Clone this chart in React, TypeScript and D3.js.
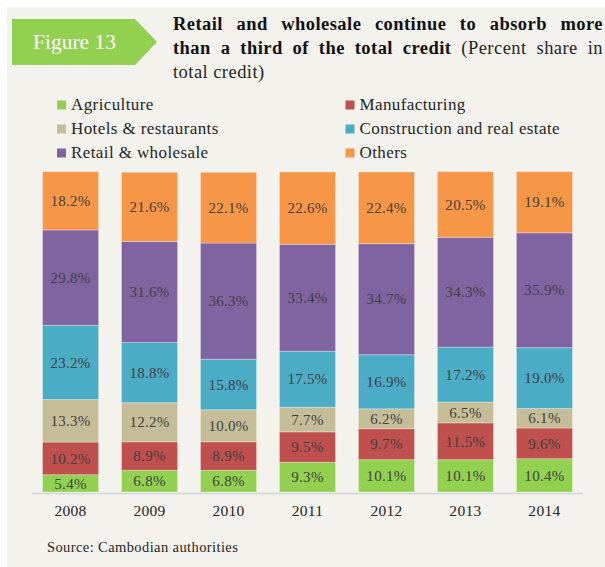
import React from 'react';
import * as d3 from 'd3';

const years = ['2008', '2009', '2010', '2011', '2012', '2013', '2014'];
const agriculture = [5.4, 6.8, 6.8, 9.3, 10.1, 10.1, 10.4];
const manufacturing = [10.2, 8.9, 8.9, 9.5, 9.7, 11.5, 9.6];
const hotels = [13.3, 12.2, 10.0, 7.7, 6.2, 6.5, 6.1];
const construction = [23.2, 18.8, 15.8, 17.5, 16.9, 17.2, 19.0];
const retail = [29.8, 31.6, 36.3, 33.4, 34.7, 34.3, 35.9];
const others = [18.2, 21.6, 22.1, 22.6, 22.4, 20.5, 19.1];

const seriesNames = ['Agriculture', 'Manufacturing', 'Hotels & restaurants', 'Construction and real estate', 'Retail & wholesale', 'Others'];
const seriesKeys = ['agriculture', 'manufacturing', 'hotels', 'construction', 'retail', 'others'];
const seriesValues = [agriculture, manufacturing, hotels, construction, retail, others];
const colors = ['#92d050', '#c0504d', '#c4bd97', '#4bacc6', '#8064a2', '#f79646'];

const FONT = "'Liberation Serif', 'Times New Roman', serif";

let canvasCtx: CanvasRenderingContext2D | null = null;
function measure(text: string, font: string, ls: number): number {
  if (!canvasCtx) {
    const c = document.createElement('canvas');
    canvasCtx = c.getContext('2d');
  }
  if (!canvasCtx) return text.length * 8;
  canvasCtx.font = font;
  return canvasCtx.measureText(text).width + text.length * ls;
}

type Word = { t: string; b: boolean };

function JustifiedLine({ words, x0, x1, y, size, ls, justify }: { words: Word[]; x0: number; x1: number; y: number; size: number; ls: number; justify: boolean }) {
  const widths = words.map(w => measure(w.t, `${w.b ? 'bold ' : ''}${size}px ${FONT}`, ls));
  const total = widths.reduce((a, b) => a + b, 0);
  const spaceW = measure(' ', `${size}px ${FONT}`, ls);
  const gap = justify && words.length > 1 ? (x1 - x0 - total) / (words.length - 1) : spaceW;
  let x = x0;
  return (
    <g>
      {words.map((w, i) => {
        const el = (
          <text key={i} x={x} y={y} fontFamily={FONT} fontSize={size} letterSpacing={ls} fontWeight={w.b ? 'bold' : 'normal'} fill={w.b ? '#111' : '#262626'}>
            {w.t}
          </text>
        );
        x += widths[i] + gap;
        return el;
      })}
    </g>
  );
}

export default function App() {
  const W = 605, H = 567;
  const table = years.map((yr, i) => {
    const row: any = { year: yr };
    seriesKeys.forEach((k, j) => { row[k] = seriesValues[j][i]; });
    return row;
  });
  const stacked = d3.stack<any>().keys(seriesKeys)(table);

  const x = d3.scaleBand<string>().domain(years).range([32, 583]).paddingInner(0.29).paddingOuter(0.133);
  const y = d3.scaleLinear().domain([0, 100]).range([492, 172]);

  const titleSize = 18.5;
  const titleLs = 0.45;
  const line1: Word[] = 'Retail and wholesale continue to absorb more'.split(' ').map(t => ({ t, b: true }));
  const line2: Word[] = [
    ...'than a third of the total credit'.split(' ').map(t => ({ t, b: true })),
    ...'(Percent share in'.split(' ').map(t => ({ t, b: false })),
  ];
  const line3: Word[] = 'total credit)'.split(' ').map(t => ({ t, b: false }));

  const legendRows = [
    [0, 1],
    [2, 3],
    [4, 5],
  ];
  const legendCols = [57, 345.5];
  const legendY = [105, 129, 153];

  return (
    <svg width={W} height={H} style={{ position: 'absolute', left: 0, top: 0 }} xmlns="http://www.w3.org/2000/svg">
      <rect x={0} y={0} width={W} height={H} fill="#ffffff" />
      <rect x={7} y={7} width={W - 7} height={H - 7} fill="#f3f2ec" />

      {/* figure tag */}
      <polygon points="12,19 135,19 157,42 135,65 12,65" fill="#92d050" />
      <text x={33} y={48.5} fontFamily={FONT} fontSize={21.5} fill="#ffffff">Figure 13</text>

      {/* title */}
      <JustifiedLine words={line1} x0={173} x1={603} y={29.5} size={titleSize} ls={titleLs} justify={true} />
      <JustifiedLine words={line2} x0={173} x1={603} y={54} size={titleSize} ls={titleLs} justify={true} />
      <JustifiedLine words={line3} x0={173} x1={603} y={78} size={titleSize} ls={titleLs} justify={false} />

      {/* legend */}
      {legendRows.map((row, r) =>
        row.map((si, c) => (
          <g key={`${r}-${c}`}>
            <rect x={legendCols[c]} y={legendY[r] - 4.5} width={9} height={9} fill={colors[si]} />
            <text x={legendCols[c] + 14} y={legendY[r] + 5} fontFamily={FONT} fontSize={17} letterSpacing={0.4} fill="#262626">
              {seriesNames[si]}
            </text>
          </g>
        ))
      )}

      {/* axis line */}
      <line x1={32} x2={583} y1={493.5} y2={493.5} stroke="#d9d9d9" strokeWidth={2} />

      {/* bars */}
      {stacked.map((s, si) => (
        <g key={s.key}>
          {s.map((d, i) => {
            const bx = x(years[i]) as number;
            const y0 = y(d[0]);
            const y1 = y(d[1]);
            return (
              <rect key={i} x={bx} y={y1} width={x.bandwidth()} height={y0 - y1} fill={colors[si]} stroke="#ffffff" strokeOpacity={0.3} strokeWidth={1} />
            );
          })}
        </g>
      ))}

      {/* value labels */}
      {stacked.map((s, si) => (
        <g key={`l-${s.key}`}>
          {s.map((d, i) => {
            const bx = (x(years[i]) as number) + x.bandwidth() / 2;
            const cy = (y(d[0]) + y(d[1])) / 2;
            return (
              <text key={i} x={bx} y={cy} dy="0.35em" textAnchor="middle" fontFamily={FONT} fontSize={15} letterSpacing={0.3} fill="#404040">
                {seriesValues[si][i].toFixed(1)}%
              </text>
            );
          })}
        </g>
      ))}

      {/* year labels */}
      {years.map(yr => (
        <text key={yr} x={(x(yr) as number) + x.bandwidth() / 2} y={516} textAnchor="middle" fontFamily={FONT} fontSize={15.5} letterSpacing={0.3} fill="#262626">
          {yr}
        </text>
      ))}

      <text x={47} y={552} fontFamily={FONT} fontSize={14.5} letterSpacing={0.4} fill="#262626">Source: Cambodian authorities</text>
    </svg>
  );
}
